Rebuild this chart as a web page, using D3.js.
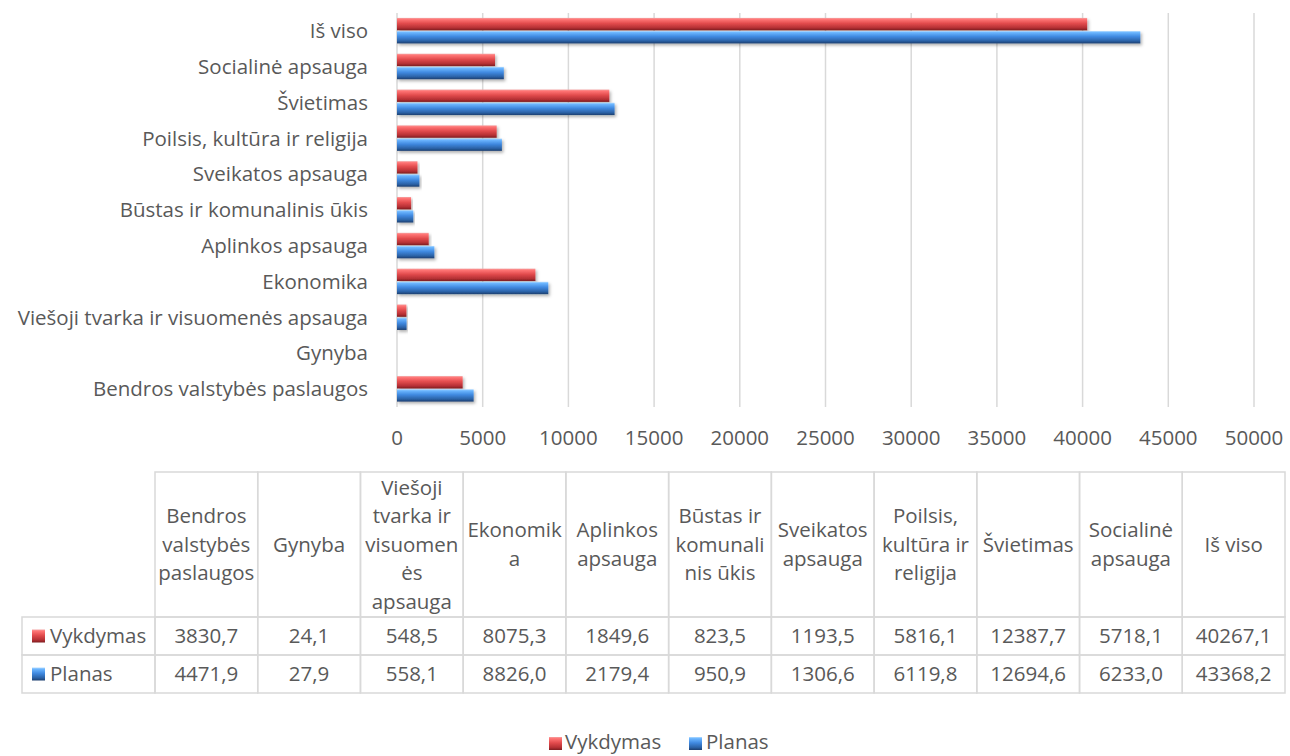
<!DOCTYPE html>
<html>
<head>
<meta charset="utf-8">
<script src="https://cdn.jsdelivr.net/npm/d3@7"></script>
<style>
  body { margin: 0; background: #fff; }
  svg { display: block; font-family: "Open Sans", Lato, sans-serif; }
  text { fill: #595959; }
</style>
</head>
<body>
<div id="chart"></div>
<script>
// categories in table order (bottom of bar chart -> top)
const categories = [
	"Bendros valstybės paslaugos",
	"Gynyba",
	"Viešoji tvarka ir visuomenės apsauga",
	"Ekonomika",
	"Aplinkos apsauga",
	"Būstas ir komunalinis ūkis",
	"Sveikatos apsauga",
	"Poilsis, kultūra ir religija",
	"Švietimas",
	"Socialinė apsauga",
	"Iš viso",
]

// header labels as wrapped in the data table
const headerLines = [
	["Bendros", "valstybės", "paslaugos"],
	["Gynyba"],
	["Viešoji", "tvarka ir", "visuomen", "ės", "apsauga"],
	["Ekonomik", "a"],
	["Aplinkos", "apsauga"],
	["Būstas ir", "komunali", "nis ūkis"],
	["Sveikatos", "apsauga"],
	["Poilsis,", "kultūra ir", "religija"],
	["Švietimas"],
	["Socialinė", "apsauga"],
	["Iš viso"],
]

const seriesNames = ["Vykdymas", "Planas"]

const vykdymas = [3830.7, 24.1, 548.5, 8075.3, 1849.6, 823.5, 1193.5, 5816.1, 12387.7, 5718.1, 40267.1]
const planas = [4471.9, 27.9, 558.1, 8826.0, 2179.4, 950.9, 1306.6, 6119.8, 12694.6, 6233.0, 43368.2]

const xTicks = [0, 5000, 10000, 15000, 20000, 25000, 30000, 35000, 40000, 45000, 50000]

const width = 1290
const height = 756
const fontSize = 20.5
const gridColor = "#d9d9d9"

const svg = d3
	.select("#chart")
	.append("svg")
	.attr("width", width)
	.attr("height", height)

// gradients for the bevelled bars
const defs = svg.append("defs")
const gradStops = {
	red: [
		[0, "#f4a3a3"],
		[0.12, "#ff7575"],
		[0.45, "#e24b4d"],
		[0.8, "#b53034"],
		[1, "#7d1d20"],
	],
	blue: [
		[0, "#b4dcff"],
		[0.12, "#6cb6ff"],
		[0.45, "#4089e0"],
		[0.8, "#2b62a6"],
		[1, "#1c3e6f"],
	],
}
Object.keys(gradStops).forEach((k) => {
	const g = defs
		.append("linearGradient")
		.attr("id", "grad-" + k)
		.attr("x1", 0)
		.attr("y1", 0)
		.attr("x2", 0)
		.attr("y2", 1)
	gradStops[k].forEach((s) => {
		g.append("stop").attr("offset", s[0]).attr("stop-color", s[1])
	})
})
const shadow = defs
	.append("filter")
	.attr("id", "shadow")
	.attr("x", "-5%")
	.attr("y", "-50%")
	.attr("width", "115%")
	.attr("height", "250%")
shadow
	.append("feDropShadow")
	.attr("dx", 1.5)
	.attr("dy", 2)
	.attr("stdDeviation", 1.5)
	.attr("flood-color", "#000")
	.attr("flood-opacity", 0.3)

const seriesFill = { Vykdymas: "url(#grad-red)", Planas: "url(#grad-blue)" }
const seriesData = { Vykdymas: vykdymas, Planas: planas }

// ---------- bar chart ----------
const x = d3.scaleLinear().domain([0, 50000]).range([397, 1254])
const y = d3
	.scaleBand()
	.domain(categories.slice().reverse())
	.range([13, 407])
const y1 = d3
	.scaleBand()
	.domain(seriesNames)
	.range([y.bandwidth() / 2 - 13, y.bandwidth() / 2 + 12.5])
	.paddingInner(0.06)

// gridlines
svg.append("g")
	.selectAll("line")
	.data(xTicks)
	.join("line")
	.attr("x1", (d) => x(d))
	.attr("x2", (d) => x(d))
	.attr("y1", 13)
	.attr("y2", 407)
	.attr("stroke", gridColor)
	.attr("stroke-width", 1.5)

// x tick labels
svg.append("g")
	.selectAll("text")
	.data(xTicks)
	.join("text")
	.attr("x", (d) => x(d))
	.attr("y", 438)
	.attr("dy", "0.35em")
	.attr("text-anchor", "middle")
	.attr("font-size", fontSize)
	.text((d) => d)

// category labels
svg.append("g")
	.selectAll("text")
	.data(categories)
	.join("text")
	.attr("x", 368)
	.attr("y", (d) => y(d) + y.bandwidth() / 2)
	.attr("dy", "0.35em")
	.attr("text-anchor", "end")
	.attr("font-size", fontSize)
	.text((d) => d)

// bars (skip ones narrower than a pixel, they don't show in the original)
const groups = svg
	.append("g")
	.selectAll("g")
	.data(categories)
	.join("g")
	.attr("transform", (d) => `translate(0,${y(d)})`)

groups
	.selectAll("rect")
	.data((d, i) =>
		seriesNames
			.map((s) => ({ s, v: seriesData[s][i] }))
			.filter((e) => x(e.v) - x(0) >= 1)
	)
	.join("rect")
	.attr("x", x(0))
	.attr("y", (d) => y1(d.s))
	.attr("width", (d) => x(d.v) - x(0))
	.attr("height", y1.bandwidth())
	.attr("fill", (d) => seriesFill[d.s])
	.attr("filter", "url(#shadow)")

// ---------- data table ----------
const tableLeft = 22
const colX = d3.scaleBand().domain(categories).range([155, 1285])
const headTop = 472
const headBottom = 617
const rowH = 38
const lineH = 28.5

const table = svg.append("g").attr("fill", "none")

// header cells
categories.forEach((c, i) => {
	table
		.append("rect")
		.attr("x", colX(c))
		.attr("y", headTop)
		.attr("width", colX.bandwidth())
		.attr("height", headBottom - headTop)
		.attr("fill", "none")
		.attr("stroke", gridColor)
		.attr("stroke-width", 1.5)
	const lines = headerLines[i]
	const cy = (headTop + headBottom) / 2
	table
		.append("g")
		.selectAll("text")
		.data(lines)
		.join("text")
		.attr("x", colX(c) + colX.bandwidth() / 2)
		.attr("y", (d, j) => cy + (j - (lines.length - 1) / 2) * lineH)
		.attr("dy", "0.35em")
		.attr("text-anchor", "middle")
		.attr("font-size", fontSize)
		.text((d) => d)
})

const fmt = (v) => d3.format(".1f")(v).replace(".", ",")

seriesNames.forEach((s, r) => {
	const top = headBottom + r * rowH
	table
		.append("rect")
		.attr("x", tableLeft)
		.attr("y", top)
		.attr("width", 155 - tableLeft)
		.attr("height", rowH)
		.attr("fill", "none")
		.attr("stroke", gridColor)
		.attr("stroke-width", 1.5)
	table
		.append("rect")
		.attr("x", 32)
		.attr("y", top + rowH / 2 - 6.5)
		.attr("width", 13)
		.attr("height", 13)
		.attr("fill", seriesFill[s])
	table
		.append("text")
		.attr("x", 50)
		.attr("y", top + rowH / 2)
		.attr("dy", "0.35em")
		.attr("font-size", fontSize)
		.text(s)
	categories.forEach((c, i) => {
		table
			.append("rect")
			.attr("x", colX(c))
			.attr("y", top)
			.attr("width", colX.bandwidth())
			.attr("height", rowH)
			.attr("fill", "none")
			.attr("stroke", gridColor)
			.attr("stroke-width", 1.5)
		table
			.append("text")
			.attr("x", colX(c) + colX.bandwidth() / 2)
			.attr("y", top + rowH / 2)
			.attr("dy", "0.35em")
			.attr("text-anchor", "middle")
			.attr("font-size", fontSize)
			.text(fmt(seriesData[s][i]))
	})
})

// ---------- legend ----------
const legendPos = [
	{ s: "Vykdymas", mx: 549, tx: 565 },
	{ s: "Planas", mx: 689, tx: 706 },
]
const legend = svg.append("g")
legendPos.forEach((l) => {
	legend
		.append("rect")
		.attr("x", l.mx)
		.attr("y", 737)
		.attr("width", 13)
		.attr("height", 13)
		.attr("fill", seriesFill[l.s])
	legend
		.append("text")
		.attr("x", l.tx)
		.attr("y", 742)
		.attr("dy", "0.35em")
		.attr("font-size", fontSize)
		.text(l.s)
})
</script>
</body>
</html>
